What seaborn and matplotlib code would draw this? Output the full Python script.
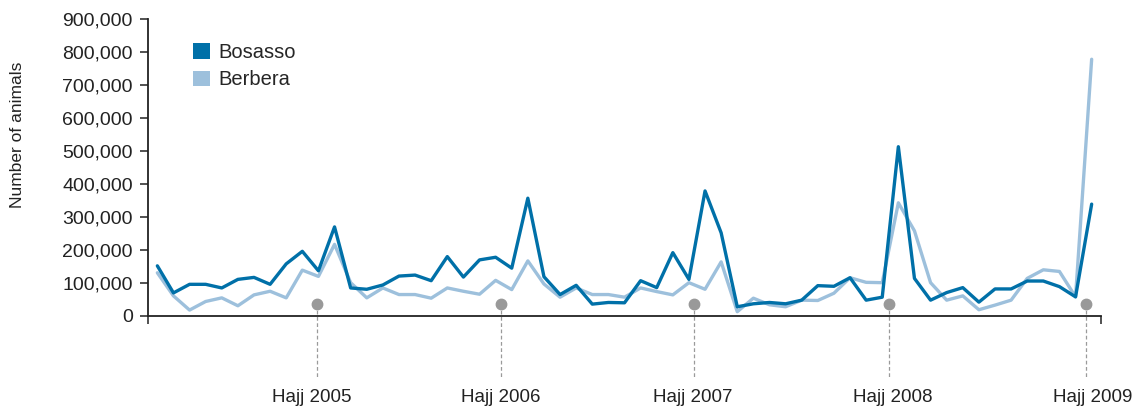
import numpy as np
import pandas as pd
import matplotlib
matplotlib.use("Agg")
import matplotlib.pyplot as plt
import matplotlib.transforms as mtransforms
from matplotlib.patches import Patch
import seaborn as sns

# ---- data ----
bosasso = [152, 70, 96, 96, 85, 111, 117, 96, 158, 196,
           137, 270, 85, 81, 94, 121, 124, 107, 180, 118,
           170, 178, 145, 357, 119, 65, 93, 36, 41, 40,
           107, 86, 192, 111, 379, 252, 28, 37, 41, 37,
           48, 92, 90, 116, 48, 57, 513, 114, 48, 71,
           86, 42, 82, 82, 106, 106, 89, 58, 339]
berbera = [131, 61, 18, 44, 55, 31, 64, 75, 55, 139,
           120, 217, 101, 55, 85, 65, 65, 54, 85, 75,
           66, 108, 80, 167, 97, 57, 85, 65, 65, 57,
           85, 74, 64, 101, 81, 164, 13, 54, 34, 28,
           48, 47, 69, 116, 102, 101, 343, 258, 101, 48,
           61, 19, 33, 48, 114, 140, 135, 58, 778]
series_names = ["Bosasso", "Berbera"]
hajj_labels = ["Hajj 2005", "Hajj 2006", "Hajj 2007", "Hajj 2008", "Hajj 2009"]
hajj_pos = [9.91, 21.33, 33.33, 45.40, 57.64]   # in month-index units
hajj_dot_value = 36000
y_ticks = [0, 100000, 200000, 300000, 400000, 500000, 600000, 700000, 800000, 900000]

colors = {"Bosasso": "#0070a8", "Berbera": "#9dc0dc"}
label_shift_px = [-5, 0, -1.5, 4, 7]

n = len(bosasso)
df = pd.DataFrame({
    "month": list(range(n)) * 2,
    "animals": [v * 1000 for v in bosasso] + [v * 1000 for v in berbera],
    "port": ["Bosasso"] * n + ["Berbera"] * n,
})

sns.set_style("white")
plt.rcParams["font.family"] = ["Liberation Sans", "DejaVu Sans"]

fig = plt.figure(figsize=(11.33, 4.13), dpi=100)
ax = fig.add_axes([148 / 1133, 97 / 413, (1101 - 148) / 1133, (316 - 19) / 413])

# draw Berbera first, then Bosasso on top
sns.lineplot(data=df, x="month", y="animals", hue="port",
             hue_order=["Berbera", "Bosasso"], palette=colors,
             linewidth=2.4, ax=ax, legend=False)

ax.set_xlim(-0.58, 58.58)
ax.set_ylim(0, 900000)
ax.set_yticks(y_ticks)
ax.set_yticklabels([f"{v:,}" for v in y_ticks], fontsize=14, color="#222222")
ax.set_xticks([-0.58, 58.58])
ax.set_xticklabels(["", ""])
ax.tick_params(axis="both", direction="out", length=6, width=1.1, color="#222222",
               pad=5, left=True, bottom=True)
ax.set_xlabel("")
ax.set_ylabel("")
for s in ["top", "right"]:
    ax.spines[s].set_visible(False)
for s in ["left", "bottom"]:
    ax.spines[s].set_color("#222222")
    ax.spines[s].set_linewidth(1.3)

# Hajj markers
trans = mtransforms.blended_transform_factory(ax.transData, ax.transAxes)
dot_axes_y = hajj_dot_value / 900000
for lab, xp, dx in zip(hajj_labels, hajj_pos, label_shift_px):
    ax.plot([xp, xp], [dot_axes_y, -0.213], transform=trans, color="#9a9a9a",
            linewidth=0.9, linestyle=(0, (3, 2)), clip_on=False, zorder=1)
    ax.plot([xp], [dot_axes_y], transform=trans, marker="o", markersize=7.5,
            color="#999999", clip_on=False, zorder=5)
    t = trans + mtransforms.ScaledTranslation(dx / 100, 0, fig.dpi_scale_trans)
    ax.text(xp, -0.275, lab, transform=t, ha="center", va="center",
            fontsize=13.5, color="#222222")

# legend
handles = [Patch(facecolor=colors[nm], edgecolor="none") for nm in series_names]
ax.legend(handles, series_names, loc="upper left",
          bbox_to_anchor=((193 - 148) / 953, 1 - (43 - 19) / 297),
          frameon=False, fontsize=14.5, handlelength=0.82, handleheight=0.82,
          handletextpad=0.45, labelspacing=0.42, borderpad=0, borderaxespad=0)

fig.text(18 / 1133, (413 - 135) / 413, "Number of animals", rotation=90,
         ha="center", va="center", fontsize=12.5, color="#222222")

fig.savefig("out.png", dpi=100)
